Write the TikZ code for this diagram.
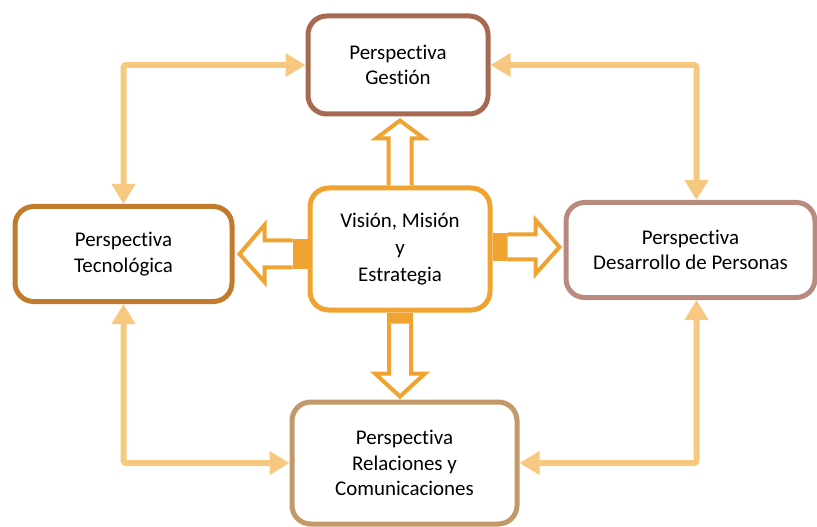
\documentclass[tikz,border=0pt]{standalone}
\usepackage{fontspec}
\setmainfont{Carlito}[Ligatures=NoCommon]
\usepackage{xcolor}
\usetikzlibrary{arrows.meta, positioning, calc}

\definecolor{cGest}{HTML}{A66A50}
\definecolor{cTecn}{HTML}{C27A2C}
\definecolor{cVmis}{HTML}{F0A330}
\definecolor{cDesa}{HTML}{B98B80}
\definecolor{cRela}{HTML}{C4996A}
\definecolor{cLink}{HTML}{F7C87F}

\begin{document}
\begin{tikzpicture}[
  x=0.75pt, y=-0.75pt,
  persp/.style={rectangle, draw, fill=white, line width=3.75pt,
                rounded corners=14pt, align=center,
                font=\fontsize{15.7}{19}\selectfont},
  link/.style={{Triangle[width=17pt,length=15pt]}-{Triangle[width=17pt,length=15pt]},
               line width=4.5pt, cLink, rounded corners=2pt},
  blk/.style={draw=cVmis, fill=white, line width=3pt, line join=miter},
  base/.style={fill=cVmis}
]
\useasboundingbox (0,0) rectangle (817,527);
%% Perspectives
\node[persp, draw=cGest, minimum width=135pt, minimum height=73.5pt]
  (gest) at (398, 65) {Perspectiva\\Gestión};
\node[persp, draw=cTecn, minimum width=162.75pt, minimum height=71.25pt]
  (tecn) at (123.5, 254) {Perspectiva\\Tecnológica};
\node[persp, draw=cVmis, minimum width=135pt, minimum height=91.5pt,
      font=\fontsize{15.7}{20}\selectfont]
  (vmis) at (400, 249) {Visión, Misión\\y\\Estrategia};
\node[persp, draw=cDesa, minimum width=186.75pt, minimum height=71.25pt]
  (desa) at (690.5, 250) {Perspectiva\\Desarrollo de Personas};
\node[persp, draw=cRela, minimum width=168.75pt, minimum height=91.5pt]
  (rela) at (404.5, 463) {Perspectiva\\Relaciones y\\Comunicaciones};
%% Outer links
\draw[link] (tecn.north) |- (gest.west);
\draw[link] (gest.east) -| ([xshift=4.5pt]desa.north);
\draw[link] (tecn.south) |- (rela.west);
\draw[link] ([xshift=4.5pt]desa.south) |- (rela.east);
%% Block arrows from the centre
% up
\draw[blk] ($(vmis.north)+(-11.5,0)$) -- ($(vmis.north)+(-11.5,-47)$)
  -- ($(vmis.north)+(-24,-47)$) -- ($(vmis.north|-gest.south)+(0,4)$)
  -- ($(vmis.north)+(24,-47)$) -- ($(vmis.north)+(11.5,-47)$)
  -- ($(vmis.north)+(11.5,0)$);
% down
\fill[base] ($(vmis.south)+(-13,0)$) rectangle ($(vmis.south)+(13,11)$);
\draw[blk] ($(vmis.south)+(-11,11)$) -- ($(vmis.south)+(-11,61)$)
  -- ($(vmis.south)+(-25,61)$) -- ($(vmis.south|-rela.north)+(0,-3)$)
  -- ($(vmis.south)+(25,61)$) -- ($(vmis.south)+(11,61)$)
  -- ($(vmis.south)+(11,11)$);
% left
\fill[base] ($(vmis.west)+(0,-10)$) rectangle ($(vmis.west)+(-15,20)$);
\draw[blk] ($(vmis.west)+(-15,-8.5)$) -- ($(vmis.west)+(-43,-8.5)$)
  -- ($(vmis.west)+(-43,-24)$) -- ($(tecn.east|-vmis.west)+(5,5)$)
  -- ($(vmis.west)+(-43,33)$) -- ($(vmis.west)+(-43,18.5)$)
  -- ($(vmis.west)+(-15,18.5)$);
% right
\fill[base] ($(vmis.east)+(0,-16)$) rectangle ($(vmis.east)+(15,12)$);
\draw[blk] ($(vmis.east)+(15,-14.5)$) -- ($(vmis.east)+(43,-14.5)$)
  -- ($(vmis.east)+(43,-29)$) -- ($(desa.west|-vmis.east)+(-4,-2)$)
  -- ($(vmis.east)+(43,25)$) -- ($(vmis.east)+(43,10.5)$)
  -- ($(vmis.east)+(15,10.5)$);
\end{tikzpicture}
\end{document}
